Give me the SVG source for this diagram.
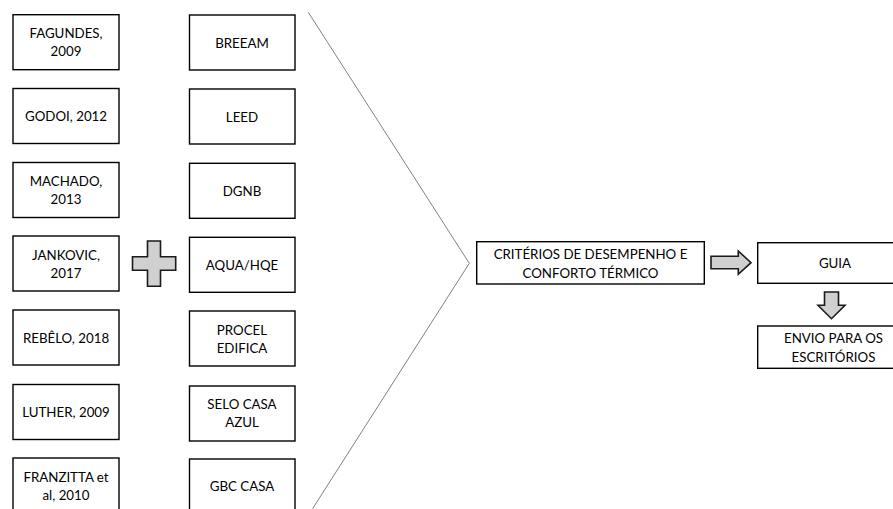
<svg xmlns="http://www.w3.org/2000/svg" width="893" height="509" viewBox="0 0 893 509">
<style>
.box{fill:#fff;stroke:#000;stroke-width:1.4}
text{font-family:Lato,"Liberation Sans",sans-serif;font-size:13.3px;fill:#000;text-anchor:middle;dominant-baseline:central}
.shape{fill:#d0d0d0;stroke:#1a1a1a;stroke-width:1.6}
.conn{fill:none;stroke:#808080;stroke-width:1}
</style>
<rect width="893" height="509" fill="#fff"/>
<g id="n-fagundes"><rect class="box" x="13" y="14.7" width="106" height="55"/><text x="66" y="33">FAGUNDES,</text><text x="66" y="51">2009</text></g>
<g id="n-godoi"><rect class="box" x="13" y="88.5" width="106" height="55"/><text x="66" y="116">GODOI, 2012</text></g>
<g id="n-machado"><rect class="box" x="13" y="162.5" width="106" height="55"/><text x="66" y="181">MACHADO,</text><text x="66" y="199">2013</text></g>
<g id="n-jankovic"><rect class="box" x="13" y="236" width="106" height="55"/><text x="66" y="254.5">JANKOVIC,</text><text x="66" y="272.5">2017</text></g>
<g id="n-rebelo"><rect class="box" x="13" y="310" width="106" height="55"/><text x="66" y="337.5">REBÊLO, 2018</text></g>
<g id="n-luther"><rect class="box" x="13" y="384.5" width="106" height="55"/><text x="66" y="412">LUTHER, 2009</text></g>
<g id="n-franzitta"><rect class="box" x="13" y="458" width="106" height="55"/><text x="66" y="476.5">FRANZITTA et</text><text x="66" y="494.5">al, 2010</text></g>

<g id="n-breeam"><rect class="box" x="189.5" y="15" width="105.5" height="55"/><text x="242" y="42.5">BREEAM</text></g>
<g id="n-leed"><rect class="box" x="189.5" y="89" width="105.5" height="55"/><text x="242" y="116.5">LEED</text></g>
<g id="n-dgnb"><rect class="box" x="189.5" y="163.3" width="105.5" height="55"/><text x="242" y="190.5">DGNB</text></g>
<g id="n-aqua"><rect class="box" x="189.5" y="237.3" width="105.5" height="55"/><text x="242" y="264.5">AQUA/HQE</text></g>
<g id="n-procel"><rect class="box" x="189.5" y="311" width="105.5" height="55"/><text x="242" y="329.5">PROCEL</text><text x="242" y="347.5">EDIFICA</text></g>
<g id="n-selo"><rect class="box" x="189.5" y="386" width="105.5" height="55"/><text x="242" y="404">SELO CASA</text><text x="242" y="422">AZUL</text></g>
<g id="n-gbc"><rect class="box" x="189.5" y="459" width="105.5" height="55"/><text x="242" y="486">GBC CASA</text></g>

<g id="n-plus"><path class="shape" d="M147.5,241 H160.5 V256.7 H175.7 V270.3 H160.5 V286.3 H147.5 V270.3 H132.5 V256.7 H147.5 Z"/></g>

<g id="n-criterios"><rect class="box" x="476.7" y="241.7" width="227.6" height="42.3"/><text x="590.5" y="253.5">CRITÉRIOS DE DESEMPENHO E</text><text x="590.5" y="272.5">CONFORTO TÉRMICO</text></g>
<g id="n-guia"><rect class="box" x="757.7" y="242.7" width="160" height="40.6"/><text x="835" y="263">GUIA</text></g>
<g id="n-envio"><rect class="box" x="757.7" y="326" width="160" height="42.3"/><text x="833.5" y="337.5">ENVIO PARA OS</text><text x="833.5" y="356.5">ESCRITÓRIOS</text></g>

<g id="connectors">
<polyline class="conn" points="308.3,12.3 469.3,263.3 312.7,508.5"/>
<path class="shape" d="M711,256.3 H738.3 V251 L751,262.7 L738.3,274.3 V268.7 H711 Z"/>
<path class="shape" d="M824.5,292 H838.5 V305.3 H845 L831.5,318.7 L818,305.3 H824.5 Z"/>
</g>
</svg>
